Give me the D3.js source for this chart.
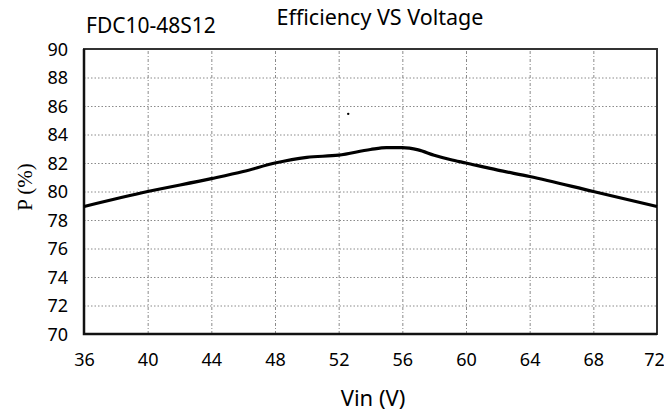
<!DOCTYPE html>
<html>
<head>
<meta charset="utf-8">
<script src="https://cdn.jsdelivr.net/npm/d3@7/dist/d3.min.js"></script>
<style>
    body{margin:0;background:#fff;}
    svg{display:block;}
    .lbl{font-family:Tahoma,"Noto Sans",sans-serif;fill:#000;}
</style>
</head>
<body>
<svg id="chart" width="664" height="412"></svg>
<script>
//数据
var vin=[36,40,44,46,48,50,52,54,55,56,57,58,59,60,62,64,68,72];
var eff=[78.95,80.0,80.9,81.4,82.0,82.4,82.55,82.95,83.08,83.08,82.92,82.55,82.25,82.0,81.5,81.05,80.0,78.95];
var xTicks=[36,40,44,48,52,56,60,64,68,72];
var yTicks=[70,72,74,76,78,80,82,84,86,88,90];
var strayPoint=[[52.6,85.45]];

(function(){
    var svg=d3.select("#chart");

    //绘图区范围（注意不能用top做变量名）
    var pLeft=84,pRight=657,pTop=49,pBottom=334;

    var x=d3.scaleLinear().domain([36,72]).range([pLeft,pRight]);
    var y=d3.scaleLinear().domain([70,90]).range([pBottom,pTop]);

    //网格线
    svg.append("g")
        .attr("transform","translate(0,"+pBottom+")")
        .call(d3.axisBottom(x).tickValues(xTicks.slice(1,-1)).tickSize(-(pBottom-pTop)).tickFormat(""))
        .call(function(g){
            g.select(".domain").remove();
            g.selectAll("line").attr("stroke","#8a8a8a").attr("stroke-width",1).attr("stroke-dasharray","3,2,1,2");
        });

    svg.append("g")
        .attr("transform","translate("+pLeft+",0)")
        .call(d3.axisLeft(y).tickValues(yTicks.slice(1,-1)).tickSize(-(pRight-pLeft)).tickFormat(""))
        .call(function(g){
            g.select(".domain").remove();
            g.selectAll("line").attr("stroke","#8a8a8a").attr("stroke-width",1).attr("stroke-dasharray","1.5,2");
        });

    //边框
    svg.append("rect")
        .attr("x",pLeft).attr("y",pTop)
        .attr("width",pRight-pLeft).attr("height",pBottom-pTop)
        .attr("fill","none").attr("stroke","#333").attr("stroke-width",2);

    svg.append("path")
        .attr("d","M"+pLeft+","+pTop+"V"+pBottom+"H"+pRight)
        .attr("fill","none").attr("stroke","#111").attr("stroke-width",2.5);

    //刻度标签
    svg.append("g")
        .attr("transform","translate(0,"+pBottom+")")
        .call(d3.axisBottom(x).tickValues(xTicks).tickSize(0).tickPadding(0))
        .call(function(g){
            g.select(".domain").remove();
            g.selectAll("text").attr("class","lbl").attr("y",32).attr("dy",null)
                .attr("font-size",18).attr("font-family",null);
            //最后一个标签贴边，稍微左移
            g.selectAll("text").filter(function(d){return d===72;}).attr("dx",-3);
        });

    svg.append("g")
        .attr("transform","translate("+pLeft+",0)")
        .call(d3.axisLeft(y).tickValues(yTicks).tickSize(0).tickPadding(0))
        .call(function(g){
            g.select(".domain").remove();
            g.selectAll("text").attr("class","lbl").attr("x",-16).attr("dy","0.36em")
                .attr("font-size",18).attr("font-family",null);
        });

    //曲线
    var line=d3.line()
        .x(function(d,i){return x(vin[i]);})
        .y(function(d){return y(d);})
        .curve(d3.curveMonotoneX);

    svg.append("path")
        .datum(eff)
        .attr("d",line)
        .attr("fill","none")
        .attr("stroke","#000")
        .attr("stroke-width",3.2)
        .attr("stroke-linejoin","round");

    svg.selectAll(".stray").data(strayPoint).enter().append("circle")
        .attr("class","stray")
        .attr("cx",function(d){return x(d[0]);})
        .attr("cy",function(d){return y(d[1]);})
        .attr("r",1.2).attr("fill","#000");

    //标题
    svg.append("text").attr("class","lbl")
        .attr("x",86).attr("y",33).attr("font-size",21)
        .text("FDC10-48S12");

    svg.append("text").attr("class","lbl")
        .attr("x",380).attr("y",25).attr("font-size",21.5).attr("text-anchor","middle")
        .text("Efficiency VS Voltage");

    svg.append("text").attr("class","lbl")
        .attr("x",373).attr("y",406).attr("font-size",22).attr("text-anchor","middle")
        .text("Vin (V)");

    svg.append("text")
        .attr("transform","translate(32,187) rotate(-90)")
        .attr("text-anchor","middle")
        .attr("font-family","'Liberation Serif','Times New Roman',serif")
        .attr("font-size",21)
        .text("P (%)");
})();
</script>
</body>
</html>
